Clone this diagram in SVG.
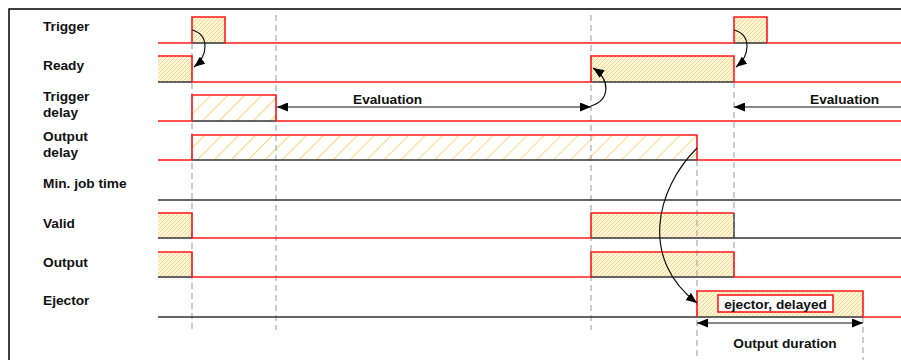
<svg xmlns="http://www.w3.org/2000/svg" width="901" height="360" viewBox="0 0 901 360">
<style>
.lbl{font-family:"Liberation Sans",Arial,sans-serif;font-weight:bold;font-size:13.7px;fill:#111}
.sig{fill:none;stroke:#ff1a1a;stroke-width:1.6}
.base{fill:none;stroke:#333;stroke-width:1.3}
.dash{fill:none;stroke:#aaa;stroke-width:1.2;stroke-dasharray:6,4}
.arr{fill:none;stroke:#111;stroke-width:1.2}
.fine{fill:url(#hf);stroke:none}
.wide{fill:url(#hw);stroke:none}
</style>
<defs>
<pattern id="hf" patternUnits="userSpaceOnUse" width="4" height="4">
<rect width="4" height="4" fill="#fff6dc"/>
<path d="M-1,1 L1,-1 M0,4 L4,0 M3,5 L5,3" stroke="#fcd27a" stroke-width="0.9"/>
</pattern>
<pattern id="hw" patternUnits="userSpaceOnUse" width="12" height="12" patternTransform="rotate(45)">
<rect width="12" height="12" fill="#fff"/>
<rect x="0" y="0" width="1" height="12" fill="#fcd884"/>
</pattern>
<marker id="ah" markerUnits="userSpaceOnUse" markerWidth="12" markerHeight="10" refX="11" refY="4.5" orient="auto">
<path d="M0,0 L11,4.5 L0,9 z" fill="#000"/>
</marker>
<marker id="as" markerUnits="userSpaceOnUse" markerWidth="12" markerHeight="10" refX="0" refY="4.5" orient="auto">
<path d="M11,0 L0,4.5 L11,9 z" fill="#000"/>
</marker>
</defs>

<g id="frame">
<path d="M9,360 V9 H901" fill="none" stroke="#000" stroke-width="1.5"/>
</g>

<g id="hatching">
<rect class="fine" x="192" y="17" width="33" height="26"/>
<rect class="fine" x="734" y="17" width="33" height="26"/>
<rect class="fine" x="158" y="56" width="34" height="26"/>
<rect class="fine" x="591" y="56" width="143" height="26"/>
<rect class="wide" x="192" y="95" width="84" height="26"/>
<rect class="wide" x="192" y="135" width="505" height="25"/>
<rect class="fine" x="158" y="213" width="34" height="25"/>
<rect class="fine" x="591" y="213" width="143" height="25"/>
<rect class="fine" x="158" y="252" width="34" height="25"/>
<rect class="fine" x="591" y="252" width="143" height="25"/>
<rect class="fine" x="697" y="291" width="166" height="26"/>
</g>

<g id="gridlines">
<path class="dash" d="M192,43 V330"/>
<path class="dash" d="M276,15 V330"/>
<path class="dash" d="M591,15 V330"/>
<path class="dash" d="M697,160 V360"/>
<path class="dash" d="M734,82 V277"/>
<path class="dash" d="M863,317 V360"/>
</g>

<g id="trigger">
<text class="lbl" x="43" y="31">Trigger</text>
<path class="base" d="M192,43 H225 M734,43 H767"/>
<path class="sig" d="M158,43 H192 V17 H225 V43 H734 V17 H767 V43 H901"/>
</g>

<g id="ready">
<text class="lbl" x="43" y="70">Ready</text>
<path class="base" d="M158,82 H192 M591,82 H734"/>
<path class="sig" d="M158,56 H192 V82 H591 V56 H734 V82 H901"/>
</g>

<g id="trigger-delay">
<text class="lbl" x="43" y="101">Trigger</text>
<text class="lbl" x="43" y="117">delay</text>
<path class="base" d="M192,121 H276"/>
<path class="sig" d="M158,121 H192 V95 H276 V121 H901"/>
</g>

<g id="output-delay">
<text class="lbl" x="43" y="141">Output</text>
<text class="lbl" x="43" y="157">delay</text>
<path class="base" d="M192,160 H697"/>
<path class="sig" d="M158,160 H192 V135 H697 V160 H901"/>
</g>

<g id="min-job-time">
<text class="lbl" x="43" y="188">Min. job time</text>
<path class="base" d="M158,200 H901"/>
</g>

<g id="valid">
<text class="lbl" x="43" y="228">Valid</text>
<path class="base" d="M158,238 H192 M591,238 H901 M734,213 V238"/>
<path class="sig" d="M158,213 H192 V238 H591 V213 H734"/>
</g>

<g id="output">
<text class="lbl" x="43" y="267">Output</text>
<path class="base" d="M158,277 H192 M591,277 H734"/>
<path class="sig" d="M158,252 H192 V277 H591 V252 H734 V277 H901"/>
</g>

<g id="ejector">
<text class="lbl" x="43" y="305">Ejector</text>
<path class="base" d="M158,317 H863"/>
<path class="sig" d="M697,317 V291 H863 V317 H901"/>
<rect x="718" y="295" width="115" height="17" fill="#fff" stroke="#ff1a1a" stroke-width="1.6"/>
<text class="lbl" x="775.5" y="309" text-anchor="middle">ejector, delayed</text>
</g>

<g id="connectors">
<path class="arr" d="M192,30 C210,35 208,56 194,67" marker-end="url(#ah)"/>
<path class="arr" d="M734,30 C752,35 750,56 736,67" marker-end="url(#ah)"/>
<path class="arr" d="M591,106 C610,100 611,80 593,68" marker-end="url(#ah)"/>
<path class="arr" d="M697,148 C655,190 640,260 697,303" marker-end="url(#ah)"/>
<path class="arr" d="M277,107 H591" marker-start="url(#as)" marker-end="url(#ah)"/>
<path class="arr" d="M734,107 H901" marker-start="url(#as)"/>
<path class="arr" d="M697,323 H863" marker-start="url(#as)" marker-end="url(#ah)"/>
<text class="lbl" x="353" y="104">Evaluation</text>
<text class="lbl" x="810" y="104">Evaluation</text>
<text class="lbl" x="785" y="348" text-anchor="middle">Output duration</text>
</g>
</svg>
